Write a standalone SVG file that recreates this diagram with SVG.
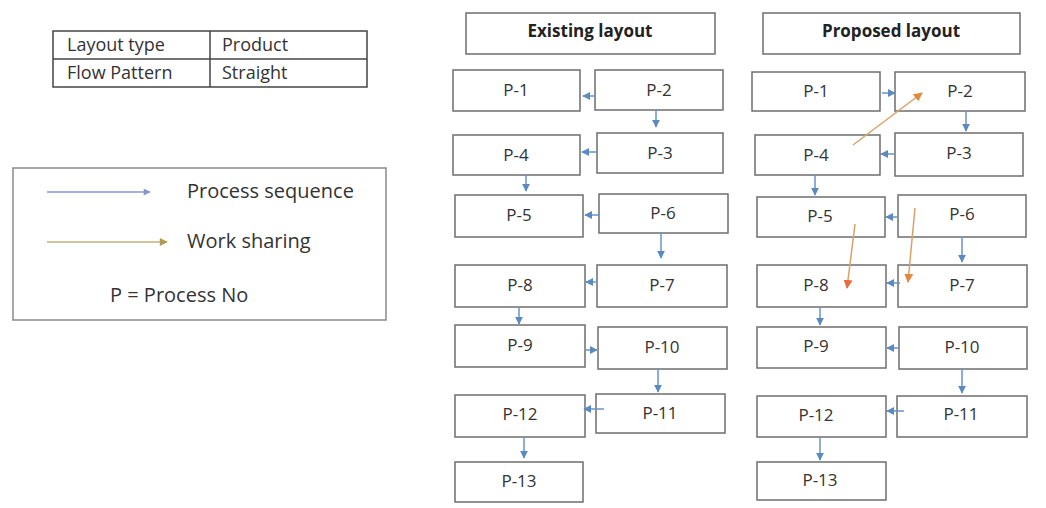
<svg xmlns="http://www.w3.org/2000/svg" width="1046" height="508" viewBox="0 0 1046 508">
<defs>
<style>
.bx{fill:#fff;stroke:#6e6e6e;stroke-width:1.5}
.t{font-family:"Open Sans","Liberation Sans",sans-serif;font-size:17px;fill:#333;text-anchor:middle}
.tb{font-family:"Open Sans","Liberation Sans",sans-serif;font-size:17px;fill:#222;font-weight:bold;text-anchor:middle}
.lt{font-family:"Open Sans","Liberation Sans",sans-serif;font-size:18px;fill:#333}
.lg{font-family:"Open Sans","Liberation Sans",sans-serif;font-size:20px;fill:#333}
.b{stroke:#6a93c4;stroke-width:1.5;fill:none;marker-end:url(#ab)}
.o{stroke:#d9a266;stroke-width:1.5;fill:none;marker-end:url(#ao)}
.r{stroke:#d9a266;stroke-width:1.5;fill:none;marker-end:url(#ar)}
</style>
<marker id="ab" viewBox="0 0 10 10" refX="9" refY="5" markerWidth="8" markerHeight="8" markerUnits="userSpaceOnUse" orient="auto"><path d="M0,0L10,5L0,10z" fill="#5b8ac0"/></marker>
<marker id="ao" viewBox="0 0 10 10" refX="9" refY="5" markerWidth="9" markerHeight="9" markerUnits="userSpaceOnUse" orient="auto"><path d="M0,0L10,5L0,10z" fill="#e08a3c"/></marker>
<marker id="ar" viewBox="0 0 10 10" refX="9" refY="5" markerWidth="9" markerHeight="9" markerUnits="userSpaceOnUse" orient="auto"><path d="M0,0L10,5L0,10z" fill="#ee6a3a"/></marker>
<marker id="lb" viewBox="0 0 10 10" refX="9" refY="5" markerWidth="9" markerHeight="7" markerUnits="userSpaceOnUse" orient="auto"><path d="M0,0L10,5L0,10z" fill="#8a95d0"/></marker>
<marker id="lo" viewBox="0 0 10 10" refX="9" refY="5" markerWidth="11" markerHeight="8" markerUnits="userSpaceOnUse" orient="auto"><path d="M0,0L10,5L0,10z" fill="#b09a55"/></marker>
</defs>
<rect width="1046" height="508" fill="#fff"/>

<g id="info-table">
<rect x="53" y="31" width="314" height="56" fill="none" stroke="#444" stroke-width="1.5"/>
<line x1="53" y1="59" x2="367" y2="59" stroke="#444" stroke-width="1.5"/>
<line x1="210" y1="31" x2="210" y2="87" stroke="#444" stroke-width="1.5"/>
<text class="lt" x="67" y="51">Layout type</text>
<text class="lt" x="222" y="51">Product</text>
<text class="lt" x="67" y="79">Flow Pattern</text>
<text class="lt" x="222" y="79">Straight</text>
</g>

<g id="legend">
<rect x="13" y="168" width="373" height="152" fill="#fff" stroke="#8a8a8a" stroke-width="1.5"/>
<line x1="47" y1="192" x2="150" y2="192" stroke="#8a95d0" stroke-width="1.5" marker-end="url(#lb)"/>
<text class="lg" x="187" y="198">Process sequence</text>
<line x1="47" y1="242" x2="167" y2="242" stroke="#c4b27a" stroke-width="1.5" marker-end="url(#lo)"/>
<text class="lg" x="187" y="248">Work sharing</text>
<text class="lg" x="110" y="302">P = Process No</text>
</g>

<g id="existing-title"><rect class="bx" x="466" y="13" width="249" height="41"/><text class="tb" x="590" y="37">Existing layout</text></g>
<g id="e-p1"><rect class="bx" x="453" y="70" width="127" height="41"/><text class="t" x="516" y="96">P-1</text></g>
<g id="e-p2"><rect class="bx" x="595" y="70" width="128" height="40"/><text class="t" x="659" y="96">P-2</text></g>
<g id="e-p4"><rect class="bx" x="453" y="135" width="127" height="40"/><text class="t" x="516" y="161">P-4</text></g>
<g id="e-p3"><rect class="bx" x="597" y="133" width="126" height="40"/><text class="t" x="660" y="159">P-3</text></g>
<g id="e-p5"><rect class="bx" x="455" y="195" width="128" height="42"/><text class="t" x="519" y="221">P-5</text></g>
<g id="e-p6"><rect class="bx" x="599" y="194" width="129" height="39"/><text class="t" x="663" y="219">P-6</text></g>
<g id="e-p8"><rect class="bx" x="455" y="265" width="130" height="42"/><text class="t" x="520" y="291">P-8</text></g>
<g id="e-p7"><rect class="bx" x="597" y="265" width="130" height="42"/><text class="t" x="662" y="291">P-7</text></g>
<g id="e-p9"><rect class="bx" x="455" y="325" width="130" height="42"/><text class="t" x="520" y="351">P-9</text></g>
<g id="e-p10"><rect class="bx" x="598" y="327" width="129" height="42"/><text class="t" x="662" y="353">P-10</text></g>
<g id="e-p12"><rect class="bx" x="455" y="395" width="130" height="42"/><text class="t" x="520" y="420">P-12</text></g>
<g id="e-p11"><rect class="bx" x="596" y="394" width="129" height="39"/><text class="t" x="660" y="419">P-11</text></g>
<g id="e-p13"><rect class="bx" x="455" y="462" width="128" height="40"/><text class="t" x="519" y="487">P-13</text></g>

<g id="proposed-title"><rect class="bx" x="763" y="13" width="257" height="41"/><text class="tb" x="891" y="37">Proposed layout</text></g>
<g id="p-p1"><rect class="bx" x="752" y="72" width="128" height="39"/><text class="t" x="816" y="97">P-1</text></g>
<g id="p-p2"><rect class="bx" x="895" y="72" width="130" height="39"/><text class="t" x="960" y="97">P-2</text></g>
<g id="p-p4"><rect class="bx" x="755" y="135" width="125" height="40"/><text class="t" x="816" y="161">P-4</text></g>
<g id="p-p3"><rect class="bx" x="895" y="133" width="128" height="43"/><text class="t" x="959" y="159">P-3</text></g>
<g id="p-p5"><rect class="bx" x="757" y="197" width="128" height="40"/><text class="t" x="820" y="222">P-5</text></g>
<g id="p-p6"><rect class="bx" x="898" y="195" width="128" height="42"/><text class="t" x="962" y="220">P-6</text></g>
<g id="p-p8"><rect class="bx" x="757" y="265" width="129" height="42"/><text class="t" x="816" y="291">P-8</text></g>
<g id="p-p7"><rect class="bx" x="898" y="265" width="129" height="42"/><text class="t" x="962" y="291">P-7</text></g>
<g id="p-p9"><rect class="bx" x="757" y="327" width="129" height="41"/><text class="t" x="816" y="352">P-9</text></g>
<g id="p-p10"><rect class="bx" x="899" y="327" width="128" height="42"/><text class="t" x="962" y="353">P-10</text></g>
<g id="p-p12"><rect class="bx" x="757" y="396" width="129" height="41"/><text class="t" x="816" y="421">P-12</text></g>
<g id="p-p11"><rect class="bx" x="897" y="396" width="130" height="41"/><text class="t" x="961" y="420">P-11</text></g>
<g id="p-p13"><rect class="bx" x="757" y="462" width="129" height="38"/><text class="t" x="820" y="486">P-13</text></g>

<g id="connectors">
<line class="b" x1="595" y1="96" x2="583" y2="96"/>
<line class="b" x1="656" y1="110" x2="656" y2="127"/>
<line class="b" x1="597" y1="152" x2="582" y2="152"/>
<line class="b" x1="526" y1="175" x2="526" y2="191"/>
<line class="b" x1="599" y1="215" x2="585" y2="215"/>
<line class="b" x1="661" y1="233" x2="661" y2="258"/>
<line class="b" x1="597" y1="282" x2="586" y2="282"/>
<line class="b" x1="519" y1="307" x2="519" y2="324"/>
<line class="b" x1="585" y1="350" x2="597" y2="350"/>
<line class="b" x1="658" y1="369" x2="658" y2="392"/>
<line class="b" x1="604" y1="409" x2="584" y2="409"/>
<line class="b" x1="524" y1="437" x2="524" y2="458"/>

<line class="b" x1="882" y1="93" x2="895" y2="93"/>
<line class="b" x1="966" y1="111" x2="966" y2="131"/>
<line class="b" x1="895" y1="154" x2="881" y2="154"/>
<line class="b" x1="815" y1="175" x2="815" y2="195"/>
<line class="b" x1="898" y1="217" x2="886" y2="217"/>
<line class="b" x1="962" y1="237" x2="962" y2="262"/>
<line class="b" x1="900" y1="283" x2="887" y2="283"/>
<line class="b" x1="820" y1="307" x2="820" y2="325"/>
<line class="b" x1="899" y1="348" x2="887" y2="348"/>
<line class="b" x1="962" y1="369" x2="962" y2="393"/>
<line class="b" x1="904" y1="411" x2="887" y2="411"/>
<line class="b" x1="820" y1="437" x2="820" y2="460"/>

<line class="o" x1="853" y1="145" x2="922" y2="93"/>
<line class="r" x1="855" y1="224" x2="847" y2="288"/>
<line class="o" x1="915" y1="208" x2="908" y2="282"/>
</g>
</svg>
